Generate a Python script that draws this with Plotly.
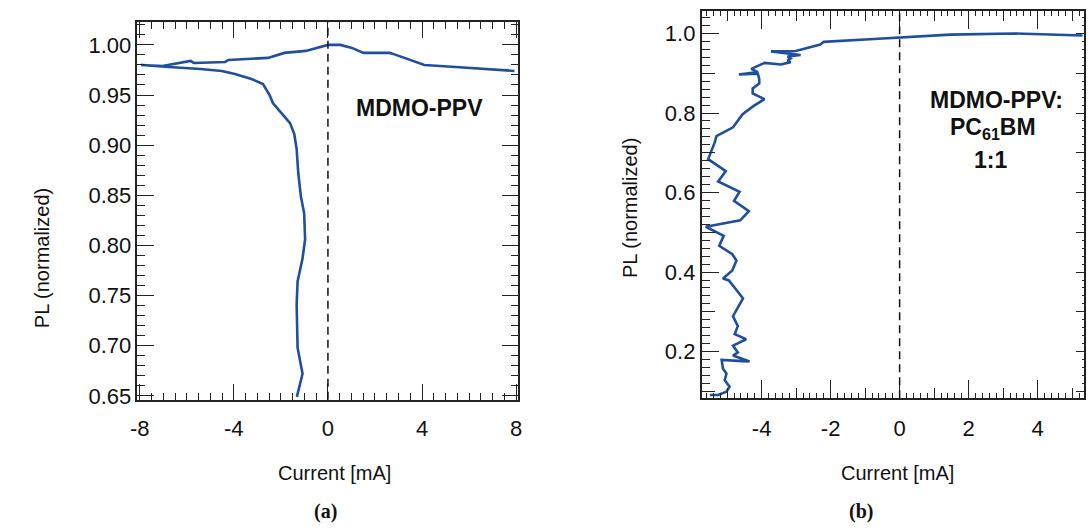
import plotly.graph_objects as go

# ---------------- data ----------------
# panel (a): MDMO-PPV
a_current = [-1.32, -1.08, -1.29, -1.33, -1.29, -1.08, -0.97, -1.01, -1.15, -1.26,
             -1.33, -1.43, -1.61, -1.99, -2.34, -2.48, -2.76, -3.25, -3.95, -4.51,
             -5.42, -6.75, -7.94, -7.03, -5.84, -5.70, -4.37, -4.23, -2.55, -1.85,
             -0.94, 0.00, 0.53, 1.02, 1.51, 2.63, 2.77, 4.10, 5.43, 7.93]
a_pl = [0.649, 0.672, 0.698, 0.741, 0.764, 0.787, 0.806, 0.832, 0.849, 0.872,
        0.896, 0.911, 0.922, 0.932, 0.942, 0.950, 0.961, 0.966, 0.971, 0.974,
        0.976, 0.978, 0.980, 0.979, 0.984, 0.982, 0.983, 0.985, 0.987, 0.992,
        0.994, 1.000, 1.000, 0.997, 0.992, 0.992, 0.991, 0.980, 0.978, 0.974]

# panel (b): MDMO-PPV:PC61BM 1:1
b_current = [5.30, 3.31, 1.47, 0.00, -1.00, -2.20, -2.30, -3.01, -3.73, -2.87,
             -3.25, -3.16, -3.25, -3.16, -3.44, -3.92, -4.30, -4.11, -4.66, -4.11,
             -4.07, -4.07, -4.26, -4.26, -3.92, -4.26, -4.55, -4.83, -5.31, -5.36,
             -5.50, -5.55, -5.04, -5.26, -4.64, -4.80, -4.37, -4.62, -5.62, -5.10,
             -5.23, -4.85, -4.73, -4.85, -5.12, -4.95, -4.73, -4.54, -4.83, -4.69,
             -4.78, -4.45, -4.83, -4.69, -4.83, -4.35, -4.56, -5.16, -5.12, -5.02,
             -5.07, -4.93, -5.02, -5.26, -5.50]
b_pl = [0.995, 1.000, 0.997, 0.989, 0.985, 0.979, 0.972, 0.956, 0.955, 0.946,
        0.942, 0.937, 0.932, 0.928, 0.922, 0.926, 0.911, 0.903, 0.897, 0.899,
        0.886, 0.874, 0.862, 0.849, 0.835, 0.816, 0.797, 0.764, 0.742, 0.726,
        0.693, 0.684, 0.654, 0.628, 0.602, 0.579, 0.553, 0.530, 0.514, 0.491,
        0.466, 0.445, 0.429, 0.404, 0.384, 0.379, 0.355, 0.334, 0.289, 0.264,
        0.244, 0.231, 0.215, 0.198, 0.190, 0.175, 0.176, 0.179, 0.157, 0.145,
        0.128, 0.112, 0.099, 0.091, 0.091]

a_xticks = [-8, -4, 0, 4, 8]
a_xticktext = ["-8", "-4", "0", "4", "8"]
b_xticks = [-4, -2, 0, 2, 4]
b_xticktext = ["-4", "-2", "0", "2", "4"]

W, H = 1089, 532
LINE = "#1f4f9e"
AX = "#222222"
FONT = "Liberation Sans, Arial, sans-serif"

def px(x):
    return x / W

def py(y):
    return 1 - y / H

a_xdom = [px(131.7), px(516.7)]
a_ydom = [py(406.7), py(22.7)]
b_xdom = [px(701.7), px(1087.5)]
b_ydom = [py(405), py(11)]
a_xr = [-8.1, 8.1]
a_yr = [0.646, 1.0225]
b_xr = [-5.74, 5.33]
b_yr = [0.083, 1.057]

fig = go.Figure()

# data traces
fig.add_trace(go.Scatter(x=a_current, y=a_pl, mode="lines", xaxis="x", yaxis="y",
                         line=dict(color=LINE, width=2.6), showlegend=False, hoverinfo="skip"))
fig.add_trace(go.Scatter(x=b_current, y=b_pl, mode="lines", xaxis="x2", yaxis="y2",
                         line=dict(color=LINE, width=2.6), showlegend=False, hoverinfo="skip"))

# dummy traces so that overlay axes are drawn
for xa, ya in [("x4", "y2"), ("x2", "y4"), ("x2", "y5")]:
    fig.add_trace(go.Scatter(x=[None], y=[None], xaxis=xa, yaxis=ya, mode="lines",
                             showlegend=False, hoverinfo="skip"))

common = dict(showgrid=False, zeroline=False, showline=True, linecolor=AX, linewidth=1.5,
              ticks="inside", tickcolor=AX, tickwidth=1.2,
              tickfont=dict(family=FONT, size=22, color="#111111"))

fig.update_layout(
    width=W, height=H, margin=dict(l=0, r=0, t=0, b=0),
    paper_bgcolor="white", plot_bgcolor="white",
    xaxis=dict(domain=a_xdom, anchor="y", range=a_xr, tickmode="array", tickvals=a_xticks,
               ticktext=a_xticktext, ticklen=16, mirror="allticks", ticklabelstandoff=8,
               minor=dict(dtick=0.5, tick0=0, ticklen=7, ticks="inside", tickcolor=AX, tickwidth=1.2),
               **common),
    yaxis=dict(domain=a_ydom, anchor="x", range=a_yr, tick0=0.65, dtick=0.05, tickformat=".2f",
               ticklen=17, mirror="allticks",
               minor=dict(dtick=0.01, tick0=0.65, ticklen=8, ticks="inside", tickcolor=AX, tickwidth=1.2),
               **common),
    xaxis2=dict(domain=b_xdom, anchor="y2", range=b_xr, tickmode="array", tickvals=b_xticks,
                ticktext=b_xticktext, ticklen=18, mirror="ticks", ticklabelstandoff=10,
                minor=dict(dtick=0.2, tick0=0, ticklen=5, ticks="inside", tickcolor=AX, tickwidth=1.1),
                **common),
    xaxis4=dict(overlaying="x2", anchor="y2", side="bottom", range=b_xr, showgrid=False,
                zeroline=False, showline=False, ticks="inside", tick0=0, dtick=1, ticklen=10,
                tickcolor=AX, tickwidth=1.2, showticklabels=False, mirror="ticks"),
    yaxis2=dict(domain=b_ydom, anchor="x2", range=b_yr, tick0=0, dtick=0.2, tickformat=".1f",
                ticklen=18, mirror=True,
                minor=dict(dtick=0.02, tick0=0, ticklen=9, ticks="inside", tickcolor=AX, tickwidth=1.2),
                **common),
    yaxis4=dict(overlaying="y2", anchor="x2", side="left", range=b_yr, showgrid=False,
                zeroline=False, showline=False, ticks="inside", tick0=0, dtick=0.1, ticklen=13,
                tickcolor=AX, tickwidth=1.2, showticklabels=False),
    yaxis5=dict(overlaying="y2", anchor="x2", side="right", range=b_yr, showgrid=False,
                zeroline=False, showline=False, ticks="inside", tick0=0, dtick=0.1, ticklen=8,
                tickcolor=AX, tickwidth=1.2, showticklabels=False,
                minor=dict(dtick=0.02, tick0=0, ticklen=2, ticks="inside", tickcolor=AX, tickwidth=1.2)),
)

# dashed zero lines
for xa, ya in [("x", "y"), ("x2", "y2")]:
    fig.add_shape(type="line", xref=xa, yref=f"{ya} domain", x0=0, x1=0, y0=0, y1=1,
                  line=dict(color="#111111", width=1.5, dash="8px,5px"))

tfont = dict(family=FONT, size=20, color="#111111")
ann = [
    dict(text="PL (normalized)", x=px(35), y=py(263), textangle=-90, font=tfont),
    dict(text="PL (normalized)", x=px(630), y=py(212), textangle=-90, font=tfont),
    dict(text="Current [mA]", x=px(331), y=py(481), font=tfont),
    dict(text="Current [mA]", x=px(900), y=py(481), font=tfont),
    dict(text="<b>(a)</b>", x=px(322), y=py(520),
         font=dict(family="Liberation Serif, DejaVu Serif, serif", size=20, color="#111111")),
    dict(text="<b>(b)</b>", x=px(863), y=py(520),
         font=dict(family="Liberation Serif, DejaVu Serif, serif", size=20, color="#111111")),
    dict(text="<b>MDMO-PPV</b>", x=px(417), y=py(110),
         font=dict(family=FONT, size=23, color="#111111")),
    dict(text="<b>MDMO-PPV:</b>", x=px(1000), y=py(102),
         font=dict(family=FONT, size=23, color="#111111")),
    dict(text="<b>PC<sub>61</sub>BM</b>", x=px(996), y=py(131),
         font=dict(family=FONT, size=23, color="#111111")),
    dict(text="<b>1:1</b>", x=px(994), y=py(163),
         font=dict(family=FONT, size=23, color="#111111")),
]
for a in ann:
    fig.add_annotation(xref="paper", yref="paper", showarrow=False,
                       xanchor="center", yanchor="middle", **a)

fig.write_html("out.html")
